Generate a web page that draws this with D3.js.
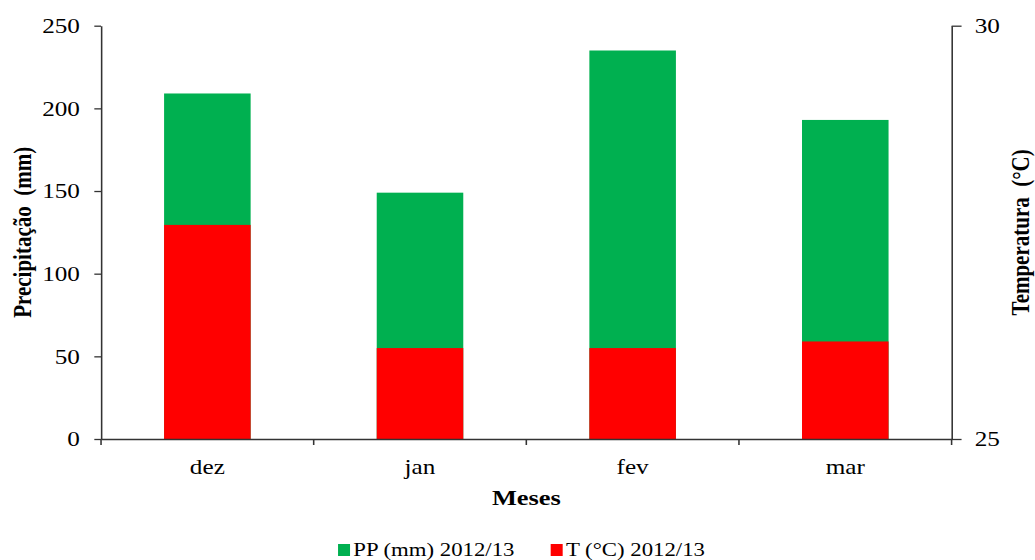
<!DOCTYPE html>
<html>
<head>
<meta charset="utf-8">
<script src="https://cdn.jsdelivr.net/npm/d3@7"></script>
<style>
  body { margin: 0; background: #fff; }
  text { font-family: "Liberation Serif", "Times New Roman", serif; fill: #000; }
</style>
</head>
<body>
<div id="chart"></div>
<script>
// data
const months = ["dez", "jan", "fev", "mar"];
const precip = [209, 149, 235, 193];        // PP (mm) 2012/13
const temp = [27.59, 26.1, 26.1, 26.18];    // T (°C) 2012/13
const leftTicks = [0, 50, 100, 150, 200, 250];
const rightTicks = [25, 30];
const legendLabels = ["PP (mm) 2012/13", "T (°C) 2012/13"];

const green = "#00B050";
const red = "#FF0000";
const axisColor = "#333";

// the original is stretched horizontally, so draw in a narrower box and let it stretch
const W = 862.5, H = 560;
const margin = {left: 84.2, right: W - 793, top: 25.7, bottom: H - 439};

const svg = d3.select("#chart")
  .append("svg")
  .attr("width", 1035)
  .attr("height", 560)
  .attr("viewBox", [0, 0, W, H])
  .attr("preserveAspectRatio", "none");

const x = d3.scaleBand()
  .domain(months)
  .range([margin.left, W - margin.right])
  .paddingInner(0.593)
  .paddingOuter(0.2965);

// band scale without padding, for the boundary ticks
const xCat = d3.scaleBand()
  .domain(months)
  .range([margin.left, W - margin.right]);

const yL = d3.scaleLinear().domain([0, 250]).range([H - margin.bottom, margin.top]);
const yR = d3.scaleLinear().domain([25, 30]).range([H - margin.bottom, margin.top]);

// bars: precipitation behind, temperature in front
svg.selectAll(".pp")
  .data(precip)
  .enter()
  .append("rect")
    .attr("class", "pp")
    .attr("x", (d, i) => x(months[i]))
    .attr("y", d => yL(d))
    .attr("width", x.bandwidth())
    .attr("height", d => yL(0) - yL(d))
    .attr("fill", green);

svg.selectAll(".tt")
  .data(temp)
  .enter()
  .append("rect")
    .attr("class", "tt")
    .attr("x", (d, i) => x(months[i]))
    .attr("y", d => yR(d))
    .attr("width", x.bandwidth())
    .attr("height", d => yR(25) - yR(d))
    .attr("fill", red);

// left axis
const gL = svg.append("g")
  .attr("transform", `translate(${margin.left},0)`)
  .call(d3.axisLeft(yL).tickValues(leftTicks).tickSize(5.6).tickSizeOuter(0).tickPadding(12));
gL.selectAll("text").attr("font-size", 21).attr("fill", "#000");

// right axis
const gR = svg.append("g")
  .attr("transform", `translate(${W - margin.right},0)`)
  .call(d3.axisRight(yR).tickValues(rightTicks).tickFormat(d3.format("d"))
    .tickSize(8.3).tickSizeOuter(0).tickPadding(11));
gR.selectAll("text").attr("font-size", 21).attr("fill", "#000");

// x axis line + ticks at the category boundaries
const gX = svg.append("g")
  .attr("transform", `translate(0,${yL(0)})`)
  .call(d3.axisBottom(xCat).tickSize(0).tickSizeOuter(0).tickFormat(""));

const bounds = months.map(m => xCat(m)).concat([xCat.range()[1]]);
gX.selectAll(".bt")
  .data(bounds)
  .enter()
  .append("line")
    .attr("x1", d => d).attr("x2", d => d)
    .attr("y1", 0).attr("y2", 6)
    .attr("stroke", axisColor);

svg.selectAll(".domain, .tick line").attr("stroke", axisColor).attr("stroke-width", 1.3);
gX.selectAll("line").attr("stroke-width", 1.3);

// month labels
svg.selectAll(".mlab")
  .data(months)
  .enter()
  .append("text")
    .attr("class", "mlab")
    .attr("x", d => xCat(d) + xCat.bandwidth() / 2)
    .attr("y", 474)
    .attr("text-anchor", "middle")
    .attr("font-size", 21)
    .text(d => d);

// axis titles
svg.append("text")
  .attr("x", (margin.left + W - margin.right) / 2)
  .attr("y", 505)
  .attr("text-anchor", "middle")
  .attr("font-size", 22)
  .attr("font-weight", "bold")
  .text("Meses");

svg.append("text")
  .attr("transform", `translate(25.8,${(yL(0) + yL(250)) / 2}) rotate(-90)`)
  .attr("text-anchor", "middle")
  .attr("font-size", 21)
  .attr("font-weight", "bold")
  .style("white-space", "pre")
  .text("Precipitação  (mm)");

svg.append("text")
  .attr("transform", `translate(857.5,${(yL(0) + yL(250)) / 2}) rotate(-90)`)
  .attr("text-anchor", "middle")
  .attr("font-size", 21)
  .attr("font-weight", "bold")
  .style("white-space", "pre")
  .text("Temperatura  (°C)");

// legend
const legX = [281.7, 458.9];
const legColors = [green, red];
const leg = svg.selectAll(".leg")
  .data(legendLabels)
  .enter()
  .append("g")
    .attr("class", "leg")
    .attr("transform", (d, i) => `translate(${legX[i]},544)`);

leg.append("rect")
  .attr("width", 10)
  .attr("height", 12)
  .attr("fill", (d, i) => legColors[i]);

leg.append("text")
  .attr("x", 12.7)
  .attr("y", 12)
  .attr("font-size", 19)
  .text(d => d);
</script>
</body>
</html>
